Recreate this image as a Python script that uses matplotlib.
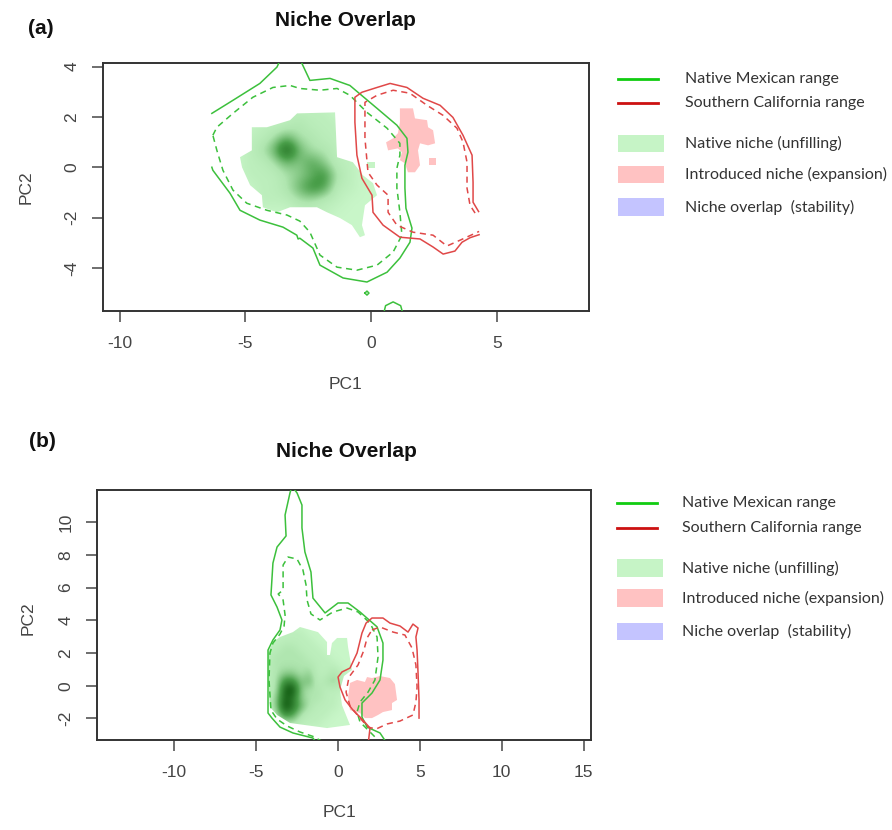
import numpy as np
import matplotlib
matplotlib.use("Agg")
import matplotlib.pyplot as plt
from matplotlib.colors import LinearSegmentedColormap
from matplotlib.patches import Polygon, Rectangle
from matplotlib.lines import Line2D

# ---------------- DATA: panel (a) ----------------
A_XTICKS = [-10, -5, 0, 5]
A_YTICKS = [-4, -2, 0, 2, 4]
A_XLIM = (-10.66, 8.66)
A_YLIM = (-5.70, 4.13)

# Native Mexican range, outer (solid) contour, open at left grid edge
A_GREEN_SOLID = [(-6.33, 0.0), (-6.29, -0.12), (-5.61, -1.03), (-5.21, -1.71), (-4.42, -2.10),
                 (-3.50, -2.38), (-2.95, -2.70), (-2.90, -2.85), (-2.83, -2.82), (-2.31, -3.21),
                 (-2.03, -3.89), (-1.11, -4.40), (-0.16, -4.56), (0.64, -4.17), (1.15, -3.61),
                 (1.55, -2.98), (1.63, -2.42), (1.39, -1.63), (1.35, -0.83), (1.35, 0.08),
                 (1.47, 0.60), (1.43, 1.15), (1.03, 1.67), (0.24, 2.34), (-0.52, 2.98),
                 (-0.84, 3.25), (-1.63, 3.53), (-2.43, 3.45), (-2.75, 4.13), (-2.9, 4.5),
                 (-3.5, 4.5), (-3.74, 3.98), (-4.42, 3.33), (-5.49, 2.66), (-6.33, 2.14)]
# inner (dashed) contour, closed
A_GREEN_DASH = [(-6.29, 1.27), (-6.13, 1.59), (-5.49, 2.14), (-4.70, 2.78), (-3.90, 3.17),
                (-3.22, 3.25), (-2.83, 3.13), (-2.03, 3.06), (-1.35, 3.13), (-0.84, 2.86),
                (-0.16, 2.18), (0.64, 1.55), (1.15, 0.95), (1.15, 0.48), (1.03, -0.04),
                (1.03, -0.83), (1.15, -1.79), (1.23, -2.70), (0.88, -3.37), (0.24, -3.89),
                (-0.56, -4.09), (-1.35, -3.97), (-2.03, -3.49), (-2.43, -2.58), (-2.83, -2.14),
                (-3.34, -1.90), (-4.14, -1.71), (-4.94, -1.43), (-5.49, -0.91), (-5.89, -0.12),
                (-6.13, 0.67), (-6.29, 1.27)]
A_GREEN_DOT = [(-0.24, -5.0), (-0.16, -4.92), (-0.08, -5.0), (-0.16, -5.08), (-0.24, -5.0)]
A_GREEN_ARC = [(0.52, -5.75), (0.58, -5.50), (0.88, -5.35), (1.18, -5.50), (1.25, -5.75)]

# Southern California range
A_RED_SOLID = [(4.28, -1.76), (4.06, -1.39), (4.06, -0.60), (4.02, 0.48), (3.66, 1.27),
               (3.26, 1.98), (2.75, 2.46), (2.07, 2.74), (1.43, 3.17), (0.76, 3.33),
               (0.24, 3.17), (-0.36, 2.98), (-0.64, 2.78), (-0.64, 1.79), (-0.56, 0.48),
               (-0.36, -0.44), (0.04, -1.11), (0.08, -1.79), (0.48, -2.30), (1.15, -2.78),
               (1.95, -2.85), (2.47, -3.17), (2.87, -3.45), (3.34, -3.33), (3.62, -2.98),
               (3.94, -2.80), (4.30, -2.68)]
A_RED_DASH = [(4.14, -1.82), (3.94, -1.51), (3.82, -0.83), (3.82, 0.20), (3.66, 1.00),
              (3.42, 1.55), (2.87, 2.06), (2.23, 2.46), (1.55, 2.94), (0.88, 3.06),
              (0.24, 2.86), (-0.24, 2.58), (-0.24, 1.15), (-0.12, -0.20), (0.24, -0.71),
              (0.68, -1.11), (0.68, -1.79), (1.03, -2.30), (1.67, -2.58), (2.47, -2.70),
              (3.02, -3.13), (3.54, -2.90), (4.30, -2.55)]

A_NATIVE_FILL = [(-4.74, 1.59), (-4.14, 1.59), (-3.22, 1.87), (-2.94, 2.14), (-1.43, 2.18),
                 (-1.35, 0.40), (-0.72, 0.20), (-0.32, -0.32), (0.08, -0.63), (0.24, -1.11),
                 (-0.24, -1.51), (-0.36, -2.30), (-0.24, -2.70), (-0.44, -2.78), (-0.76, -2.30),
                 (-1.23, -2.02), (-1.75, -1.79), (-2.15, -1.59), (-3.22, -1.59), (-3.74, -1.79),
                 (-4.30, -1.59), (-4.34, -1.11), (-4.81, -0.71), (-5.13, 0.0), (-5.21, 0.40),
                 (-4.74, 0.67)]
A_NATIVE_SQUARE = [(-0.16, -0.04), (0.16, -0.04), (0.16, 0.20), (-0.16, 0.20)]
A_INTRO_FILL = [(1.15, 2.34), (1.67, 2.34), (1.75, 1.94), (2.23, 1.87), (2.27, 1.59),
                (2.47, 1.47), (2.55, 0.95), (2.27, 0.87), (1.95, 0.95), (1.87, 0.67),
                (1.95, 0.08), (1.75, -0.20), (1.47, -0.20), (1.35, 0.16), (1.15, 0.28),
                (1.23, 0.60), (1.07, 0.75), (0.68, 0.67), (0.60, 0.99), (0.88, 1.15),
                (1.07, 1.35), (1.15, 1.79)]
A_INTRO_SQUARE = [(2.31, 0.08), (2.59, 0.08), (2.59, 0.36), (2.31, 0.36)]

# density of native occurrences (0-9), read on a 0.5 grid
A_DENS_X = [-5.34, -4.84, -4.34, -3.84, -3.34, -2.84, -2.34, -1.84, -1.34, -0.84, -0.34, 0.16]
A_DENS_Y = [2.67, 2.17, 1.67, 1.17, 0.67, 0.17, -0.33, -0.83, -1.33, -1.83, -2.33, -2.83]
A_DENS = [
    [0, 0, 0, 0, 0, 0, 0, 0, 0, 0, 0, 0],
    [0, 0, 0, 0, 1, 1, 1, 1, 0, 0, 0, 0],
    [0, 0, 1, 1, 1, 2, 1, 1, 1, 0, 0, 0],
    [0, 1, 1, 2, 4, 2, 2, 1, 1, 0, 0, 0],
    [0, 1, 2, 4, 9, 4, 2, 2, 1, 1, 0, 0],
    [0, 1, 1, 2, 4, 3, 5, 3, 1, 1, 0, 0],
    [0, 1, 1, 1, 2, 3, 4, 6, 2, 1, 0, 0],
    [0, 0, 1, 1, 2, 4, 6, 5, 1, 1, 0, 0],
    [0, 0, 1, 1, 1, 2, 2, 1, 1, 0, 0, 0],
    [0, 0, 0, 0, 0, 1, 1, 1, 0, 0, 0, 0],
    [0, 0, 0, 0, 0, 0, 0, 0, 0, 0, 0, 0],
    [0, 0, 0, 0, 0, 0, 0, 0, 0, 0, 0, 0],
]

# ---------------- DATA: panel (b) ----------------
B_XTICKS = [-10, -5, 0, 5, 10, 15]
B_YTICKS = [-2, 0, 2, 4, 6, 8, 10]
B_XLIM = (-14.68, 15.43)
B_YLIM = (-3.32, 11.97)

B_GREEN_SOLID = [(-1.20, -3.63), (-1.51, -3.20), (-2.73, -2.89), (-3.52, -2.53), (-4.01, -1.98),
                 (-4.25, -1.67), (-4.25, 2.18), (-3.95, 2.80), (-3.52, 3.41), (-3.40, 4.02),
                 (-3.70, 4.81), (-4.07, 5.55), (-3.95, 7.50), (-3.70, 8.48), (-3.15, 9.16),
                 (-3.21, 10.44), (-2.91, 11.79), (-2.79, 12.20), (-2.48, 11.79), (-2.18, 11.05),
                 (-2.18, 9.65), (-2.00, 8.18), (-1.63, 6.95), (-1.51, 5.36), (-0.77, 4.45),
                 (0.02, 5.06), (0.63, 5.06), (1.36, 4.51), (2.40, 3.60), (2.76, 2.61),
                 (2.76, 1.57), (2.58, 0.35), (2.09, -0.45), (1.48, -1.06), (1.48, -1.91),
                 (1.79, -2.53), (2.58, -2.89), (3.07, -3.63)]
B_GREEN_DASH = [(-0.90, -3.43), (-1.51, -3.10), (-2.30, -2.83), (-3.09, -2.46), (-3.70, -2.04),
                (-4.07, -1.49), (-4.19, 0.35), (-4.13, 2.00), (-3.95, 2.61), (-3.52, 3.16),
                (-3.27, 3.65), (-3.21, 4.32), (-3.33, 5.24), (-3.63, 5.61), (-3.33, 5.85),
                (-3.33, 7.38), (-3.03, 7.87), (-2.48, 7.75), (-2.12, 7.08), (-1.93, 6.16),
                (-1.87, 5.24), (-1.63, 4.39), (-1.08, 4.02), (-0.29, 4.51), (0.57, 4.75),
                (1.24, 4.51), (1.97, 3.83), (2.40, 2.98), (2.46, 1.76), (2.27, 0.35),
                (1.85, -0.39), (1.36, -1.00), (1.18, -1.61), (1.36, -2.22), (1.85, -2.71),
                (2.34, -3.20), (2.46, -3.63)]
B_RED_SOLID = [(1.85, -3.63), (1.97, -2.59), (1.54, -2.10), (0.93, -1.49), (0.45, -0.87),
               (0.14, -0.08), (0.02, 0.53), (0.26, 0.84), (0.75, 1.08), (1.18, 2.00),
               (1.48, 3.22), (1.73, 3.83), (2.09, 4.14), (2.76, 4.14), (3.19, 3.83),
               (3.80, 3.65), (4.29, 3.28), (4.59, 3.77), (4.90, 3.53), (4.77, 2.98),
               (4.84, 2.18), (4.90, 0.78), (4.96, -0.87), (4.96, -1.98)]
B_RED_DASH = [(2.09, 3.41), (2.58, 3.59), (3.38, 3.28), (4.10, 3.10), (4.53, 2.31),
              (4.77, 1.27), (4.84, -0.08), (4.77, -1.00), (4.59, -1.79), (3.80, -2.16),
              (3.01, -2.34), (2.34, -2.65), (1.85, -2.53), (1.36, -1.98), (0.75, -1.24),
              (0.51, -0.39), (0.69, 0.53), (1.24, 1.27), (1.60, 2.18), (1.79, 2.92),
              (2.09, 3.41)]
B_NATIVE_FILL = [(-4.25, 2.00), (-3.95, 2.67), (-3.52, 2.98), (-2.73, 3.28), (-2.30, 3.59),
                 (-1.20, 3.28), (-0.65, 2.67), (-0.65, 1.88), (-0.47, 1.88), (-0.35, 2.61),
                 (-0.04, 2.92), (0.57, 2.92), (0.63, 2.37), (0.87, 0.96), (0.38, 0.59),
                 (0.14, -0.26), (0.26, -1.18), (0.75, -2.40), (-0.65, -2.59), (-2.91, -2.28),
                 (-3.70, -1.79), (-4.13, -1.30), (-4.25, 0.35)]
B_INTRO_FILL = [(0.75, 0.17), (1.18, 0.35), (1.66, 0.23), (1.79, 0.53), (2.09, 0.47),
                (2.58, 0.59), (3.19, 0.47), (3.49, 0.10), (3.62, -0.87), (3.31, -1.06),
                (3.31, -1.49), (2.76, -1.61), (2.46, -1.79), (2.09, -1.98), (1.66, -1.98),
                (1.36, -1.67), (0.75, -1.49), (0.63, -0.69)]
B_DENS_X = [-4.25, -3.75, -3.25, -2.75, -2.25, -1.75, -1.25, -0.75, -0.25, 0.25, 0.75]
B_DENS_Y = [3.75, 3.25, 2.75, 2.25, 1.75, 1.25, 0.75, 0.25, -0.25, -0.75, -1.25, -1.75, -2.25, -2.75]
B_DENS = [
    [0, 0, 0, 0, 0, 0, 0, 0, 0, 0, 0],
    [0, 0, 1, 1, 1, 0, 0, 0, 0, 0, 0],
    [0, 1, 1, 1, 1, 1, 0, 0, 0, 0, 0],
    [1, 1, 2, 2, 1, 1, 1, 0, 0, 0, 0],
    [1, 2, 2, 2, 2, 1, 1, 1, 0, 0, 0],
    [1, 2, 2, 2, 2, 2, 1, 1, 1, 0, 0],
    [1, 2, 3, 3, 2, 3, 1, 1, 2, 1, 0],
    [1, 2, 6, 6, 3, 4, 1, 2, 3, 1, 0],
    [1, 2, 8, 9, 3, 2, 2, 1, 1, 1, 0],
    [1, 3, 8, 7, 3, 2, 2, 1, 1, 0, 0],
    [1, 3, 9, 7, 4, 2, 1, 1, 1, 0, 0],
    [1, 2, 6, 5, 2, 1, 1, 1, 0, 0, 0],
    [0, 1, 2, 2, 1, 1, 1, 0, 0, 0, 0],
    [0, 0, 1, 1, 1, 0, 0, 0, 0, 0, 0],
]

TITLE = "Niche Overlap"
LEGEND_LINES = ["Native Mexican range", "Southern California range"]
LEGEND_PATCHES = ["Native niche (unfilling)", "Introduced niche (expansion)", "Niche overlap  (stability)"]

# ---------------- STYLE ----------------
W, H = 892, 830
GREEN_LINE = "#3cc03c"
RED_LINE = "#e04848"
FILL_GREEN = "#c6f4c6"
FILL_PINK = "#ffc2c2"
FILL_BLUE = "#c4c4ff"
AXFONT = "Liberation Sans"
dens_cmap = LinearSegmentedColormap.from_list(
    "dens", [(0.0, "#c8f6c8"), (0.22, "#b0e6b0"), (0.55, "#4a9f4a"), (1.0, "#064e06")])

fig = plt.figure(figsize=(W / 100, H / 100), dpi=100)


def fx(px):
    return px / W


def fy(py):
    return 1 - py / H


def draw_panel(rect, xlim, ylim, xticks, yticks, gsolid, gdash, rsolid, rdash,
               nat_fill, intro_fill, dens_x, dens_y, dens, extra_nat=None, extra_intro=None,
               extra_green=()):
    ax = fig.add_axes(rect)
    # native niche density clipped to niche polygon
    dx = dens_x[1] - dens_x[0]
    dy = dens_y[0] - dens_y[1]
    ext = (dens_x[0] - dx / 2, dens_x[-1] + dx / 2, dens_y[-1] - dy / 2, dens_y[0] + dy / 2)
    im = ax.imshow(np.array(dens, dtype=float), extent=ext, origin="upper", cmap=dens_cmap,
                   vmin=0, vmax=9, interpolation="bicubic", aspect="auto", zorder=1)
    clip = Polygon(nat_fill, closed=True, transform=ax.transData, facecolor="none", edgecolor="none")
    ax.add_patch(clip)
    im.set_clip_path(clip)
    if extra_nat is not None:
        ax.add_patch(Polygon(extra_nat, closed=True, facecolor=FILL_GREEN, edgecolor="none", zorder=1))
    ax.add_patch(Polygon(intro_fill, closed=True, facecolor=FILL_PINK, edgecolor="none", zorder=1))
    if extra_intro is not None:
        ax.add_patch(Polygon(extra_intro, closed=True, facecolor=FILL_PINK, edgecolor="none", zorder=1))
    ax.set_aspect("auto")
    ax.set_xlim(*xlim)
    ax.set_ylim(*ylim)

    def line(pts, color, ls):
        xs = [p[0] for p in pts]
        ys = [p[1] for p in pts]
        ax.plot(xs, ys, color=color, lw=1.1, ls=ls, zorder=3)

    line(gsolid, GREEN_LINE, "-")
    line(gdash, GREEN_LINE, (0, (4, 3)))
    for g in extra_green:
        line(g, GREEN_LINE, "-")
    line(rsolid, RED_LINE, "-")
    line(rdash, RED_LINE, (0, (4, 3)))

    ax.set_xticks(xticks)
    ax.set_yticks(yticks)
    ax.set_xticklabels([str(t) for t in xticks], fontfamily=AXFONT, fontsize=12.5, color="#444444")
    ax.set_yticklabels([str(t) for t in yticks], fontfamily=AXFONT, fontsize=12.5, color="#444444",
                       rotation=90, va="center")
    ax.tick_params(direction="out", length=8, width=1.2, color="#555555", pad=10)
    ax.tick_params(axis="y", pad=9)
    for s in ax.spines.values():
        s.set_color("#333333")
        s.set_linewidth(1.4)
    return ax


# panel (a)
axA = draw_panel([fx(103), fy(310.7), fx(588.7) - fx(103), fy(63.3) - fy(310.7)],
                 A_XLIM, A_YLIM, A_XTICKS, A_YTICKS,
                 A_GREEN_SOLID, A_GREEN_DASH, A_RED_SOLID, A_RED_DASH,
                 A_NATIVE_FILL, A_INTRO_FILL, A_DENS_X, A_DENS_Y, A_DENS,
                 extra_nat=A_NATIVE_SQUARE, extra_intro=A_INTRO_SQUARE,
                 extra_green=(A_GREEN_DOT, A_GREEN_ARC))
# panel (b)
axB = draw_panel([fx(97), fy(740), fx(590.7) - fx(97), fy(490) - fy(740)],
                 B_XLIM, B_YLIM, B_XTICKS, B_YTICKS,
                 B_GREEN_SOLID, B_GREEN_DASH, B_RED_SOLID, B_RED_DASH,
                 B_NATIVE_FILL, B_INTRO_FILL, B_DENS_X, B_DENS_Y, B_DENS)

# titles, labels
for (lx, ly, lab, tx, ty, pcx, pcy, p2x, p2y) in [
        (41, 29, "(a)", 345, 20, 345, 384, 26, 187),
        (42, 441, "(b)", 346, 451, 340, 812, 28, 618)]:
    fig.text(fx(lx), fy(ly), lab, fontfamily=AXFONT, fontweight="bold", fontsize=15,
             ha="center", va="center", color="#111111")
    fig.text(fx(tx), fy(ty), TITLE, fontfamily=AXFONT, fontweight="bold", fontsize=15,
             ha="center", va="center", color="#111111")
    fig.text(fx(pcx), fy(pcy), "PC1", fontfamily=AXFONT, fontsize=12.5,
             ha="center", va="center", color="#444444")
    fig.text(fx(p2x), fy(p2y), "PC2", fontfamily=AXFONT, fontsize=12.5, rotation=90,
             ha="center", va="center", color="#444444")

# legends
LEG_FONT = "Lato"
for (x0, y_lines, y_patches, tx) in [(618, (79, 103), ((135, 152), (166, 183), (198, 216)), 685),
                                     (617, (503, 528), ((559, 577), (589, 607), (623, 640)), 682)]:
    for yl, col, lab in zip(y_lines, ["#11cc11", "#cc1111"], LEGEND_LINES):
        fig.add_artist(Line2D([fx(x0), fx(x0 + 40)], [fy(yl), fy(yl)], color=col, lw=2))
        fig.text(fx(tx), fy(yl), lab, fontfamily=LEG_FONT, fontsize=11.5, ha="left",
                 va="center", color="#333333")
    for (ya, yb), col, lab in zip(y_patches, [FILL_GREEN, FILL_PINK, FILL_BLUE], LEGEND_PATCHES):
        fig.add_artist(Rectangle((fx(x0), fy(yb)), fx(46), fy(ya) - fy(yb),
                                 facecolor=col, edgecolor="none", transform=fig.transFigure))
        fig.text(fx(tx), fy((ya + yb) / 2), lab, fontfamily=LEG_FONT, fontsize=11.5, ha="left",
                 va="center", color="#333333")

fig.savefig("out.png", dpi=100)
